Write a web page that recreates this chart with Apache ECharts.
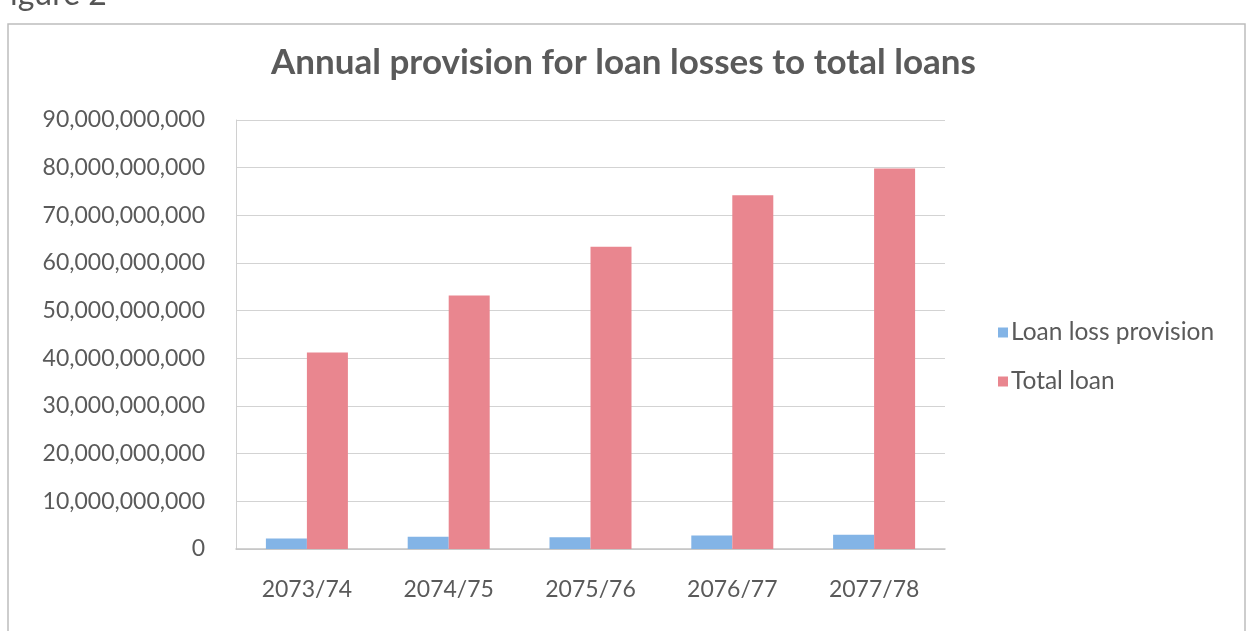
<!DOCTYPE html>
<html>
<head>
<meta charset="utf-8">
<script src="https://cdn.jsdelivr.net/npm/echarts@6/dist/echarts.min.js"></script>
<style>
html,body{margin:0;padding:0;background:#fff;}
#c{width:1247px;height:631px;}
</style>
</head>
<body>
<div id="c"></div>
<script>
const categories = ['2073/74', '2074/75', '2075/76', '2076/77', '2077/78'];
const loanLossProvision = [2.2e9, 2.55e9, 2.45e9, 2.85e9, 3.0e9];
const totalLoan = [41.2e9, 53.2e9, 63.4e9, 74.2e9, 79.8e9];
const seriesNames = ['Loan loss provision', 'Total loan'];
const titleText = 'Annual provision for loan losses to total loans';

const FONT = 'Lato';
const TXT = '#5a5a5a';
const chart = echarts.init(document.getElementById('c'));
chart.setOption({
  backgroundColor: '#fff',
  animation: false,
  title: {
    text: titleText,
    left: 'center',
    top: 40,
    textStyle: { fontFamily: FONT, fontWeight: 'bold', fontSize: 35, color: TXT }
  },
  graphic: [
    { type: 'rect', shape: { x: 8, y: 24, width: 1237, height: 640 },
      style: { fill: 'none', stroke: '#bdbdbd', lineWidth: 1.5 } },
    { type: 'text', x: -8, y: -5,
      style: { text: 'Figure 2', font: '32px Lato', fill: '#555', verticalAlign: 'middle' } }
  ],
  legend: {
    orient: 'vertical',
    left: 993,
    top: 315,
    itemGap: 24,
    itemWidth: 10,
    itemHeight: 10,
    icon: 'rect',
    textStyle: { fontFamily: FONT, fontSize: 24.5, color: TXT, padding: [0, 0, 0, -2] },
    data: seriesNames
  },
  grid: { left: 236, right: 302, top: 120, bottom: 82, containLabel: false },
  xAxis: {
    type: 'category',
    data: categories,
    axisLine: { lineStyle: { color: '#c4c4c4', width: 1.5 } },
    axisTick: { show: false },
    axisLabel: { fontFamily: FONT, fontSize: 23, color: TXT, margin: 29 }
  },
  yAxis: {
    type: 'value',
    min: 0, max: 90e9, interval: 10e9,
    axisLine: { show: true, lineStyle: { color: '#d0d0d0' } },
    axisTick: { show: false },
    splitLine: { lineStyle: { color: '#d3d3d3', width: 1.2 } },
    axisLabel: {
      fontFamily: FONT, fontSize: 23, color: TXT, margin: 31,
      formatter: v => v.toLocaleString('en-US')
    }
  },
  series: [
    { name: seriesNames[0], type: 'bar', data: loanLossProvision, barWidth: 41, barGap: '0%',
      itemStyle: { color: '#83b4e6' } },
    { name: seriesNames[1], type: 'bar', data: totalLoan, barWidth: 41, barGap: '0%',
      itemStyle: { color: '#e9868f' } }
  ]
});
</script>
</body>
</html>
